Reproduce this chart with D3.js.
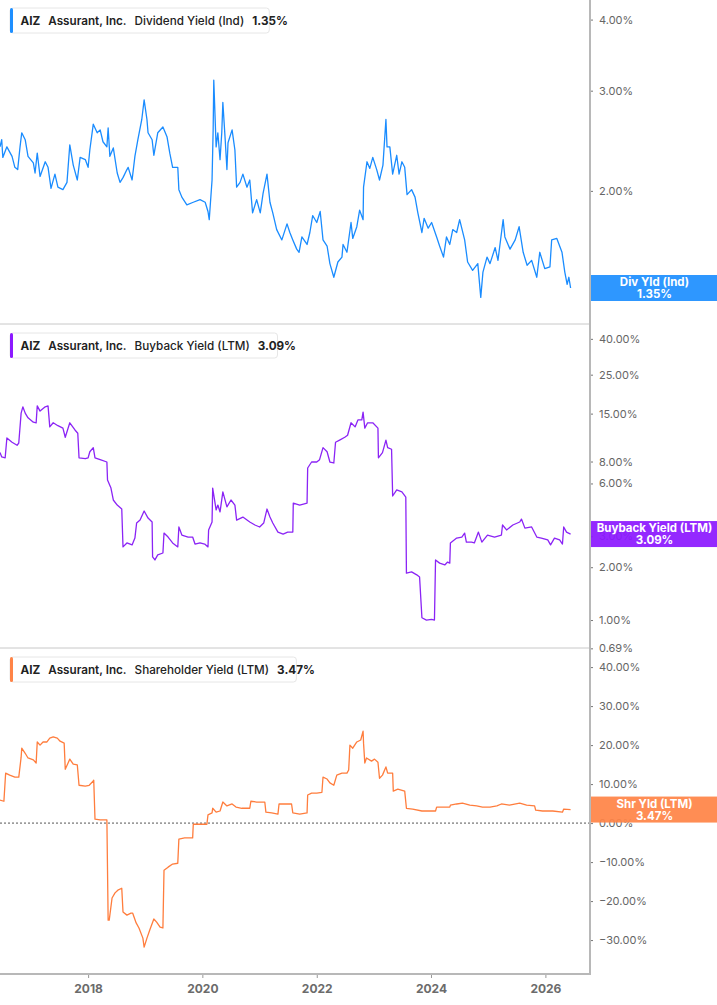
<!DOCTYPE html>
<html>
<head>
<meta charset="utf-8">
<script src="https://cdn.jsdelivr.net/npm/d3@7/dist/d3.min.js"></script>
<style>
  body { margin: 0; background: #fff; }
  svg { display: block; font-family: Inter, "Noto Sans", sans-serif; }
</style>
</head>
<body>
<svg id="drawing_region"></svg>
<script>
// dates are decimal years
const divYears = [2016.46,2016.49,2016.51,2016.58,2016.67,2016.72,2016.77,2016.81,2016.84,2016.90,2016.95,2017.04,2017.07,2017.11,2017.16,2017.25,2017.30,2017.35,2017.42,2017.47,2017.56,2017.63,2017.68,2017.74,2017.81,2017.86,2017.95,2018.00,2018.03,2018.09,2018.16,2018.21,2018.26,2018.33,2018.35,2018.38,2018.44,2018.51,2018.56,2018.61,2018.68,2018.70,2018.77,2018.82,2018.87,2018.94,2018.98,2019.03,2019.05,2019.12,2019.15,2019.22,2019.31,2019.38,2019.43,2019.48,2019.57,2019.59,2019.64,2019.73,2019.84,2019.96,2020.05,2020.10,2020.12,2020.17,2020.19,2020.20,2020.24,2020.27,2020.31,2020.34,2020.36,2020.40,2020.43,2020.45,2020.52,2020.57,2020.60,2020.66,2020.71,2020.78,2020.83,2020.88,2020.95,2021.01,2021.06,2021.13,2021.18,2021.23,2021.30,2021.39,2021.48,2021.53,2021.58,2021.65,2021.69,2021.74,2021.83,2021.88,2021.93,2022.00,2022.06,2022.11,2022.18,2022.23,2022.30,2022.37,2022.44,2022.46,2022.53,2022.60,2022.63,2022.70,2022.75,2022.81,2022.82,2022.88,2022.93,2022.98,2023.05,2023.10,2023.16,2023.21,2023.23,2023.28,2023.33,2023.40,2023.44,2023.49,2023.54,2023.58,2023.66,2023.72,2023.77,2023.84,2023.88,2023.95,2024.01,2024.10,2024.15,2024.22,2024.27,2024.33,2024.38,2024.45,2024.50,2024.59,2024.64,2024.73,2024.82,2024.87,2024.91,2024.98,2025.03,2025.12,2025.17,2025.26,2025.29,2025.38,2025.47,2025.54,2025.61,2025.68,2025.76,2025.85,2025.90,2025.99,2026.08,2026.11,2026.20,2026.29,2026.34,2026.38,2026.41,2026.44];
const divValues = [2.39,2.46,2.29,2.39,2.30,2.20,2.18,2.39,2.53,2.46,2.30,2.24,2.15,2.33,2.12,2.25,2.20,2.02,2.14,2.03,2.01,2.07,2.41,2.22,2.09,2.29,2.27,2.20,2.36,2.62,2.53,2.56,2.44,2.39,2.58,2.30,2.38,2.15,2.07,2.11,2.18,2.20,2.09,2.30,2.46,2.67,2.89,2.67,2.53,2.46,2.31,2.53,2.59,2.49,2.33,2.20,2.20,2.01,1.95,1.89,1.91,1.93,1.91,1.84,1.78,2.09,2.56,3.13,2.39,2.53,2.27,2.53,2.86,2.46,2.18,2.43,2.56,2.36,2.03,2.07,2.14,2.03,2.09,1.83,1.93,1.83,1.98,2.14,1.91,1.83,1.71,1.64,1.75,1.69,1.64,1.58,1.56,1.66,1.61,1.69,1.81,1.76,1.84,1.64,1.60,1.49,1.41,1.50,1.53,1.61,1.56,1.76,1.65,1.73,1.85,1.78,2.03,2.25,2.19,2.29,2.18,2.09,2.22,2.67,2.39,2.39,2.14,2.31,2.14,2.25,2.20,1.97,2.01,1.95,1.83,1.69,1.79,1.72,1.76,1.66,1.60,1.53,1.66,1.61,1.71,1.69,1.78,1.64,1.50,1.45,1.49,1.30,1.44,1.53,1.49,1.59,1.51,1.78,1.66,1.58,1.64,1.73,1.56,1.48,1.51,1.41,1.56,1.46,1.47,1.64,1.65,1.56,1.44,1.37,1.41,1.35];

const bbYears = [2016.46,2016.49,2016.55,2016.58,2016.67,2016.76,2016.79,2016.83,2016.86,2016.90,2016.95,2017.04,2017.09,2017.11,2017.16,2017.25,2017.30,2017.33,2017.39,2017.47,2017.56,2017.60,2017.68,2017.77,2017.82,2017.84,2017.95,2018.00,2018.03,2018.09,2018.12,2018.21,2018.33,2018.34,2018.40,2018.44,2018.51,2018.59,2018.61,2018.68,2018.77,2018.82,2018.85,2018.91,2018.98,2019.05,2019.12,2019.13,2019.17,2019.22,2019.31,2019.33,2019.40,2019.48,2019.57,2019.59,2019.64,2019.75,2019.83,2019.87,2019.96,2020.04,2020.10,2020.11,2020.17,2020.18,2020.24,2020.27,2020.31,2020.36,2020.43,2020.50,2020.57,2020.60,2020.71,2020.83,2020.92,2021.00,2021.07,2021.13,2021.18,2021.23,2021.32,2021.41,2021.49,2021.58,2021.59,2021.70,2021.83,2021.84,2021.91,2022.00,2022.05,2022.11,2022.18,2022.23,2022.30,2022.33,2022.40,2022.49,2022.54,2022.60,2022.67,2022.72,2022.79,2022.81,2022.84,2022.89,2022.98,2023.07,2023.08,2023.15,2023.21,2023.24,2023.31,2023.33,2023.40,2023.49,2023.56,2023.57,2023.66,2023.75,2023.80,2023.84,2023.92,2024.01,2024.06,2024.08,2024.15,2024.24,2024.29,2024.33,2024.34,2024.45,2024.54,2024.59,2024.62,2024.71,2024.76,2024.83,2024.89,2024.99,2025.11,2025.23,2025.25,2025.32,2025.43,2025.55,2025.58,2025.64,2025.76,2025.85,2025.93,2026.04,2026.09,2026.16,2026.25,2026.30,2026.32,2026.37,2026.44];
const bbValues = [9.0,8.5,8.4,10.9,10.3,9.9,10.2,15.1,16.4,15.1,14.2,13.4,13.3,16.6,15.5,16.4,16.6,12.6,13.3,12.8,12.4,11.0,13.3,12.1,11.6,8.4,8.3,8.4,9.1,9.6,8.4,8.2,7.95,6.28,5.65,4.83,4.52,4.29,2.61,2.75,2.68,2.93,3.57,3.71,4.18,3.81,3.62,2.29,2.20,2.35,2.41,3.13,2.97,2.75,2.61,3.39,3.05,2.97,2.97,2.71,2.75,2.71,2.61,3.26,3.62,5.65,4.24,4.52,4.13,5.37,4.41,4.83,4.52,3.71,3.86,3.62,3.48,3.39,3.57,4.29,3.86,3.57,3.17,3.09,3.17,3.17,4.64,4.52,4.64,7.35,7.95,7.95,8.2,9.6,9.1,7.95,7.85,10.3,10.6,11.0,11.3,13.3,12.6,13.8,13.8,15.3,12.4,13.3,13.3,12.4,8.4,9.0,10.6,9.6,9.4,5.09,5.51,5.37,5.02,1.85,1.88,1.81,1.76,1.03,1.00,1.01,1.00,2.20,2.11,2.06,2.14,2.11,2.75,2.93,2.97,3.13,2.78,2.78,2.75,3.17,2.78,3.05,2.97,3.05,3.48,3.26,3.48,3.62,3.76,3.34,3.39,2.97,2.93,2.86,2.68,2.93,2.86,2.71,3.39,3.17,3.09];

const shYears = [2016.46,2016.53,2016.56,2016.63,2016.72,2016.79,2016.83,2016.84,2016.90,2016.95,2017.04,2017.09,2017.11,2017.16,2017.21,2017.28,2017.33,2017.39,2017.46,2017.51,2017.58,2017.60,2017.65,2017.68,2017.74,2017.81,2017.84,2017.95,2018.02,2018.09,2018.10,2018.12,2018.21,2018.33,2018.35,2018.37,2018.42,2018.47,2018.52,2018.59,2018.61,2018.68,2018.75,2018.78,2018.84,2018.89,2018.96,2018.98,2019.03,2019.08,2019.15,2019.20,2019.26,2019.31,2019.33,2019.40,2019.48,2019.57,2019.59,2019.69,2019.83,2019.84,2019.96,2020.08,2020.10,2020.17,2020.18,2020.24,2020.31,2020.36,2020.43,2020.52,2020.59,2020.69,2020.83,2020.85,2020.95,2021.09,2021.11,2021.21,2021.32,2021.34,2021.48,2021.56,2021.58,2021.70,2021.83,2021.84,2021.91,2022.00,2022.09,2022.11,2022.18,2022.23,2022.30,2022.35,2022.44,2022.53,2022.56,2022.58,2022.63,2022.70,2022.77,2022.81,2022.82,2022.84,2022.87,2022.96,2023.01,2023.07,2023.10,2023.15,2023.21,2023.24,2023.33,2023.34,2023.42,2023.54,2023.57,2023.68,2023.84,2023.94,2024.08,2024.10,2024.20,2024.33,2024.34,2024.45,2024.55,2024.68,2024.80,2024.90,2025.03,2025.15,2025.23,2025.37,2025.55,2025.67,2025.81,2025.83,2025.95,2026.13,2026.30,2026.32,2026.44];
const shValues = [5.9,5.6,12.8,12.3,11.8,11.8,16.9,19.2,17.9,16.7,16.2,15.4,20.8,20.0,20.8,20.8,21.8,22.1,21.8,21.0,20.5,13.8,15.4,16.4,15.1,14.9,9.7,9.5,9.7,10.8,11.0,1.0,0.8,0.8,-24.9,-24.9,-19.2,-17.9,-17.2,-16.7,-22.8,-23.6,-23.1,-23.1,-25.6,-26.9,-29.5,-31.8,-29.5,-27.4,-24.6,-25.4,-26.7,-26.9,-12.1,-11.3,-10.5,-10.3,-4.1,-3.8,-3.8,-0.3,-0.3,-0.3,2.1,2.6,3.8,2.8,3.1,5.4,4.4,4.9,4.1,3.8,3.8,5.6,5.4,5.4,2.8,2.6,2.3,4.9,4.9,4.9,2.6,2.3,2.6,7.2,7.7,7.7,7.9,11.8,11.3,10.3,9.7,12.3,12.8,12.8,13.6,20.0,19.2,20.8,21.3,23.6,20.5,15.4,16.7,15.9,16.4,15.6,11.5,12.3,14.4,12.8,12.8,8.2,8.7,8.2,3.8,3.6,3.1,3.1,3.1,4.1,4.1,4.1,4.6,4.9,5.1,4.6,4.4,4.1,4.1,4.4,4.9,4.6,5.1,4.6,4.4,3.3,3.1,3.1,2.8,3.6,3.47];

const xTickYears = [2018, 2020, 2022, 2024, 2026];
const divTicks = [4, 3, 2];
const bbTicks = [40, 25, 15, 8, 6, 3, 2, 1, 0.69];
const shTicks = [40, 30, 20, 10, 0, -10, -20, -30];

function toDate(t) {
    const y = Math.floor(t);
    return new Date(y, 0, 1 + Math.round((t - y) * 365));
}

const W = 717, H = 1005, plotRight = 590, axisBottom = 974;
const fmt = d => d3.format('.2f')(d) + '%';

const svg = d3.select('#drawing_region').attr('width', W).attr('height', H);

const xscale = d3.scaleTime()
    .domain([toDate(2016.46), toDate(2026.78)])
    .range([0, plotRight]);

const panels = [
    { top: 0, bottom: 324, yscale: d3.scaleLog().domain([1.167, 4.33]).range([324, 0]),
      years: divYears, values: divValues, ticks: divTicks, color: '#1a8cff', box: '#1e8fff',
      name: 'Dividend Yield (Ind)', short: 'Div Yld (Ind)', last: '1.35%' },
    { top: 324, bottom: 648, yscale: d3.scaleLog().domain([0.693, 48.6]).range([648, 324]),
      years: bbYears, values: bbValues, ticks: bbTicks, color: '#8b24f5', box: '#8c19ff',
      name: 'Buyback Yield (LTM)', short: 'Buyback Yield (LTM)', last: '3.09%' },
    { top: 648, bottom: 974, yscale: d3.scaleLinear().domain([-38.7, 44.9]).range([974, 648]),
      years: shYears, values: shValues, ticks: shTicks, color: '#ff7d3d', box: '#ff8447',
      name: 'Shareholder Yield (LTM)', short: 'Shr Yld (LTM)', last: '3.47%', zero: true }
];

panels.forEach((p, i) => {
    const data = p.years.map((t, k) => ({ date: toDate(t), v: p.values[k] }));

    svg.append('clipPath').attr('id', 'clip' + i)
        .append('rect').attr('x', 0).attr('y', p.top)
        .attr('width', plotRight).attr('height', p.bottom - p.top);

    // zero reference line
    if (p.zero) {
        svg.append('line')
            .attr('x1', 0).attr('x2', plotRight)
            .attr('y1', p.yscale(0)).attr('y2', p.yscale(0))
            .attr('stroke', '#555').attr('stroke-width', 1)
            .attr('stroke-dasharray', '2,2');
    }

    const line = d3.line().x(d => xscale(d.date)).y(d => p.yscale(d.v));
    svg.append('path')
        .datum(data)
        .attr('clip-path', `url(#clip${i})`)
        .attr('fill', 'none')
        .attr('stroke', p.color)
        .attr('stroke-width', 1.3)
        .attr('stroke-linejoin', 'round')
        .attr('d', line);

    // panel separator
    if (i > 0) {
        svg.append('line')
            .attr('x1', 0).attr('x2', plotRight)
            .attr('y1', p.top).attr('y2', p.top)
            .attr('stroke', '#c8c8c8').attr('stroke-width', 1);
    }

    // right axis ticks
    const yaxis = d3.axisRight(p.yscale)
        .tickValues(p.ticks)
        .tickFormat(fmt)
        .tickSize(3)
        .tickPadding(6);
    const ag = svg.append('g')
        .attr('transform', `translate(${plotRight},0)`)
        .call(yaxis);
    ag.select('.domain').remove();
    ag.selectAll('.tick line').attr('stroke', '#777');
    ag.selectAll('.tick text')
        .attr('fill', '#666')
        .style('font-size', '11px')
        .style('font-family', 'Inter, sans-serif');

    // legend
    const lg = svg.append('g').attr('transform', `translate(10, ${p.top + (i === 0 ? 8 : 9)})`);
    const bg = lg.append('rect')
        .attr('x', 0).attr('y', 0).attr('height', 25).attr('rx', 3)
        .attr('fill', '#fff').attr('stroke', '#e6e6e6');
    lg.append('rect').attr('x', 0).attr('y', 0).attr('width', 3).attr('height', 25)
        .attr('rx', 1.5).attr('fill', p.box);
    const txt = lg.append('text').attr('x', 10.5).attr('y', 17)
        .attr('fill', '#222').style('font-size', '11.7px');
    txt.append('tspan').attr('font-weight', 700).text('AIZ');
    txt.append('tspan').attr('dx', 8).attr('font-weight', 600).text('Assurant, Inc.');
    txt.append('tspan').attr('dx', 8).attr('font-weight', 500).text(p.name);
    txt.append('tspan').attr('dx', 8).attr('font-weight', 700).text(p.last);
    const tw = txt.node().getComputedTextLength();
    bg.attr('width', tw + 16);

    // last value callout (slightly see-through, like the reference)
    const cy = p.yscale(p.values[p.values.length - 1]);
    svg.append('rect')
        .attr('x', plotRight).attr('y', cy - 13)
        .attr('width', W - plotRight).attr('height', 26)
        .attr('fill', p.box).attr('fill-opacity', 0.93);
    svg.append('text')
        .attr('x', (plotRight + W) / 2 + 1).attr('y', cy - 2)
        .attr('text-anchor', 'middle').attr('fill', '#fff')
        .style('font-size', '11.5px').style('font-weight', 700)
        .text(p.short);
    svg.append('text')
        .attr('x', (plotRight + W) / 2 + 1).attr('y', cy + 10)
        .attr('text-anchor', 'middle').attr('fill', '#fff')
        .style('font-size', '11.5px').style('font-weight', 700)
        .text(p.last);
});

// axis frame
svg.append('line')
    .attr('x1', plotRight).attr('x2', plotRight)
    .attr('y1', 0).attr('y2', axisBottom + 1)
    .attr('stroke', '#b8b8b8').attr('stroke-width', 2);

const xaxis = d3.axisBottom(xscale)
    .tickValues(xTickYears.map(y => new Date(y, 0, 1)))
    .tickFormat(d3.timeFormat('%Y'))
    .tickSize(4)
    .tickPadding(6);
const xg = svg.append('g')
    .attr('transform', `translate(0, ${axisBottom})`)
    .call(xaxis);
xg.select('.domain').remove();
xg.selectAll('.tick line').attr('stroke', '#999');
xg.selectAll('.tick text')
    .attr('fill', '#6b6b6b')
    .style('font-size', '12px')
    .style('font-weight', 700)
    .style('font-family', 'Inter, sans-serif');

svg.append('line')
    .attr('x1', 0).attr('x2', plotRight + 1)
    .attr('y1', axisBottom).attr('y2', axisBottom)
    .attr('stroke', '#b8b8b8').attr('stroke-width', 2);
</script>
</body>
</html>
